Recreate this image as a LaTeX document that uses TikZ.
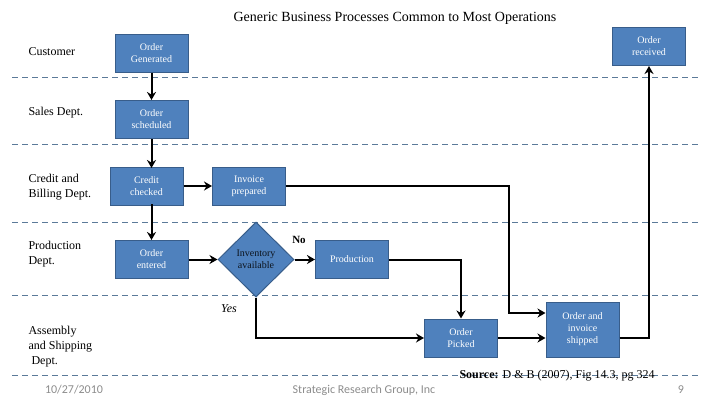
\documentclass[tikz,border=0pt]{standalone}
\usepackage{fontspec}
\setmainfont{Liberation Serif}
\newfontfamily\footfont{Carlito}
\usetikzlibrary{shapes.geometric,arrows.meta}

\definecolor{boxblue}{HTML}{4F81BD}
\definecolor{boxedge}{HTML}{385D8A}
\definecolor{lanegray}{HTML}{5B7A99}
\definecolor{footgray}{HTML}{8C8C8C}

\tikzset{
  stepbox/.style={draw=boxedge, line width=1pt, fill=boxblue, text=white,
    minimum width=73pt, minimum height=38pt, align=center, inner sep=1pt,
    font=\fontsize{10}{12}\selectfont},
  decide/.style={draw=boxedge, line width=1pt, fill=boxblue, diamond,
    minimum width=76pt, minimum height=75pt, inner sep=0pt, align=center,
    text=black!85!boxblue, font=\fontsize{10}{12}\selectfont},
  lane/.style={anchor=west, align=left, font=\fontsize{12}{15}\selectfont},
  flow/.style={line width=2pt, -{Stealth[length=8pt,width=9pt]}},
  divider/.style={draw=lanegray, dashed, dash pattern=on 6pt off 4pt, line width=0.8pt},
  foot/.style={text=footgray, font=\footfont\fontsize{12}{14}\selectfont}
}

\begin{document}
\begin{tikzpicture}[x=1pt,y=-1pt]
\useasboundingbox (0,0) rectangle (728,410);

\node (title) at (395,18) {\fontsize{14}{16}\selectfont Generic Business Processes Common to Most Operations};

% swim lanes
\foreach \ly in {77,144,222,295,375}
  \draw[divider] (12,\ly) -- (700,\ly);

\node[lane] (customer) at (25,52) {Customer};
\node[lane] (sales) at (25,113) {Sales Dept.};
\node[lane] (credit) at (25,187) {Credit and\\Billing Dept.};
\node[lane] (production) at (25,254) {Production\\Dept.};
\node[lane] (assembly) at (25,347) {Assembly\\and Shipping\\\hspace{3pt}Dept.};

% process steps
\node[stepbox] (generated) at (151.5,53) {Order\\Generated};
\node[stepbox] (scheduled) at (151.5,119.5) {Order\\scheduled};
\node[stepbox] (checked) at (146.5,186) {Credit\\checked};
\node[stepbox] (invoice) at (249,186) {Invoice\\prepared};
\node[stepbox] (entered) at (151.5,259.5) {Order\\entered};
\node[decide] (inventory) at (256,259.5) {Inventory\\available};
\node[stepbox] (make) at (352,259.5) {Production};
\node[stepbox] (picked) at (461,338) {Order\\Picked};
\node[stepbox, minimum height=55pt] (shipped) at (582.5,329.5) {Order and\\invoice\\shipped};
\node[stepbox] (received) at (649,46.5) {Order\\received};

\coordinate (c1) at (151.5,168);
\coordinate (c2) at (151.5,204);

% connectors
\draw[flow] (generated) -- (scheduled);
\draw[flow] (scheduled.south) -- (c1);
\draw[flow] (c2) -- (entered.north);
\draw[flow] (checked) -- (invoice);
\draw[flow] (entered) -- (inventory);
\draw[flow] (inventory) -- (make);
\draw[flow] (invoice.east) -| (509,313) -- (shipped.west |- 0,313);
\draw[flow] (make.east) -| (picked.north);
\draw[flow] (inventory.south) |- (picked.west);
\draw[flow] (picked) -- (shipped.west |- picked);
\draw[flow] (shipped.east |- picked) -| (received.south);

\node[font=\bfseries\fontsize{11}{13}\selectfont] (no) at (299,240) {No};
\node[font=\itshape\fontsize{12}{14}\selectfont] (yes) at (229,309) {Yes};

\node[anchor=west, font=\fontsize{12}{14}\selectfont] (source) at (456,376) {\textbf{Source:} D \& B (2007), Fig 14.3, pg 324};

% footer
\node[foot] (date) at (74,390) {10/27/2010};
\node[foot] (company) at (364,390) {Strategic Research Group, Inc};
\node[foot] (page) at (681,390) {9};
\end{tikzpicture}
\end{document}
